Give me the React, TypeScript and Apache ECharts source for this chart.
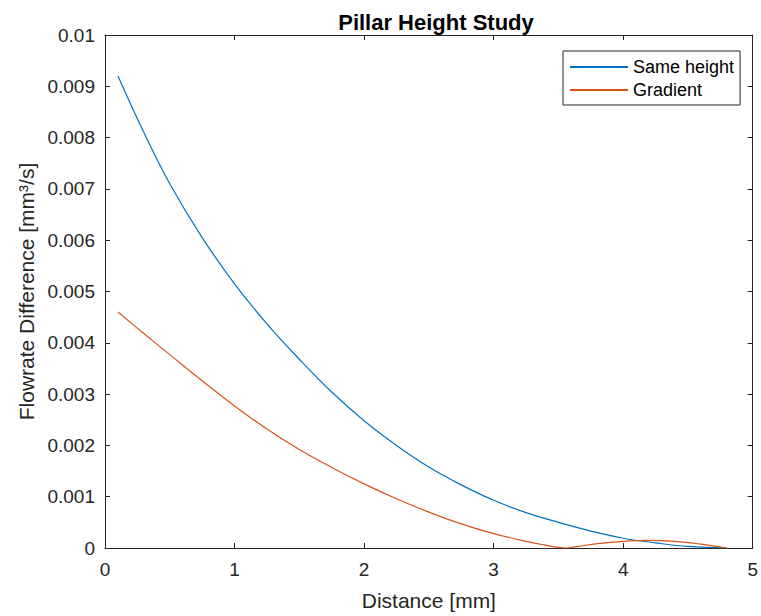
import React, { useEffect, useRef } from "react";
import * as echarts from "echarts";

const sameHeightDistance = [0.1, 0.3, 0.5, 0.75, 1.0, 1.25, 1.5, 1.75, 2.0, 2.25, 2.5, 2.75, 3.0, 3.25, 3.5, 3.75, 4.0, 4.25, 4.5, 4.8];
const sameHeight = [0.0092, 0.0081, 0.0071, 0.00605, 0.00515, 0.00437, 0.00368, 0.00304, 0.00248, 0.002, 0.00158, 0.00123, 0.00093, 0.00069, 0.0005, 0.00033, 0.00019, 0.0001, 0.00003, 0.0];

const gradientDistance = [0.1, 0.3, 0.5, 0.75, 1.0, 1.25, 1.5, 1.75, 2.0, 2.25, 2.5, 2.75, 3.0, 3.25, 3.4, 3.5, 3.56, 3.65, 3.8, 4.0, 4.2, 4.4, 4.6, 4.8];
const gradient = [0.0046, 0.00418, 0.00377, 0.00326, 0.00277, 0.00232, 0.00192, 0.00157, 0.00125, 0.00096, 0.0007, 0.00047, 0.00028, 0.00013, 0.000055, 0.000012, 0.0, 0.00003, 0.000085, 0.00013, 0.000148, 0.00013, 0.000075, 0.0];

const xTicks = [0, 1, 2, 3, 4, 5];
const yTickStep = 0.001;

const FONT = "'Liberation Sans', Arial, Helvetica, sans-serif";
const AX = "#262626";

export default function App() {
  const ref = useRef<HTMLDivElement>(null);
  useEffect(() => {
    if (!ref.current) return;
    const chart = echarts.init(ref.current, undefined, { renderer: "svg" });
    const axisCommon = {
      axisLine: { show: true, onZero: false, lineStyle: { color: AX, width: 1 } },
      axisTick: { show: true, inside: true, length: 5, lineStyle: { color: AX } },
      splitLine: { show: false },
    };
    chart.setOption({
      animation: false,
      backgroundColor: "#ffffff",
      textStyle: { fontFamily: FONT },
      title: {
        text: "Pillar Height Study",
        left: 431,
        textAlign: "center",
        top: 6,
        textStyle: { fontFamily: FONT, fontWeight: "bold", fontSize: 22, color: "#000" },
      },
      legend: {
        orient: "vertical",
        left: 563,
        top: 51,
        padding: [7, 6, 6, 6],
        itemGap: 5,
        itemWidth: 58,
        itemHeight: 1.5,
        borderColor: AX,
        borderWidth: 1,
        backgroundColor: "#fff",
        textStyle: { fontFamily: FONT, fontSize: 18, color: "#000", lineHeight: 18 },
        data: ["Same height", "Gradient"],
      },
      grid: { left: 105, right: 6, top: 35, bottom: 67 },
      xAxis: [
        {
          type: "value",
          min: xTicks[0],
          max: xTicks[xTicks.length - 1],
          interval: 1,
          position: "bottom",
          ...axisCommon,
          axisLabel: { fontFamily: FONT, fontSize: 19, color: AX, margin: 12 },
          name: "Distance [mm]",
          nameLocation: "middle",
          nameGap: 42,
          nameTextStyle: { fontFamily: FONT, fontSize: 21, color: AX },
        },
        {
          type: "value",
          min: xTicks[0],
          max: xTicks[xTicks.length - 1],
          interval: 1,
          position: "top",
          ...axisCommon,
          axisLabel: { show: false },
        },
      ],
      yAxis: [
        {
          type: "value",
          min: 0,
          max: 0.01,
          interval: yTickStep,
          position: "left",
          ...axisCommon,
          axisLabel: {
            fontFamily: FONT,
            fontSize: 19,
            color: AX,
            margin: 10,
            formatter: (v: number) => (v === 0 ? "0" : String(+v.toFixed(3))),
          },
          name: "Flowrate Difference [mm³/s]",
          nameLocation: "middle",
          nameGap: 68,
          nameTextStyle: { fontFamily: FONT, fontSize: 21, color: AX },
        },
        {
          type: "value",
          min: 0,
          max: 0.01,
          interval: yTickStep,
          position: "right",
          ...axisCommon,
          axisLabel: { show: false },
        },
      ],
      series: [
        {
          name: "Same height",
          type: "line",
          symbol: "none",
          legendIcon: "rect",
          smooth: 0.4,
          data: sameHeightDistance.map((x, i) => [x, sameHeight[i]]),
          lineStyle: { color: "#0072BD", width: 1.2 },
          itemStyle: { color: "#0072BD" },
        },
        {
          name: "Gradient",
          type: "line",
          symbol: "none",
          legendIcon: "rect",
          smooth: 0.4,
          data: gradientDistance.map((x, i) => [x, gradient[i]]),
          lineStyle: { color: "#D95319", width: 1.2 },
          itemStyle: { color: "#D95319" },
        },
      ],
    });
    return () => chart.dispose();
  }, []);
  return (
    <div
      ref={ref}
      style={{ position: "fixed", left: 0, top: 0, width: 761, height: 616, background: "#fff" }}
    />
  );
}
